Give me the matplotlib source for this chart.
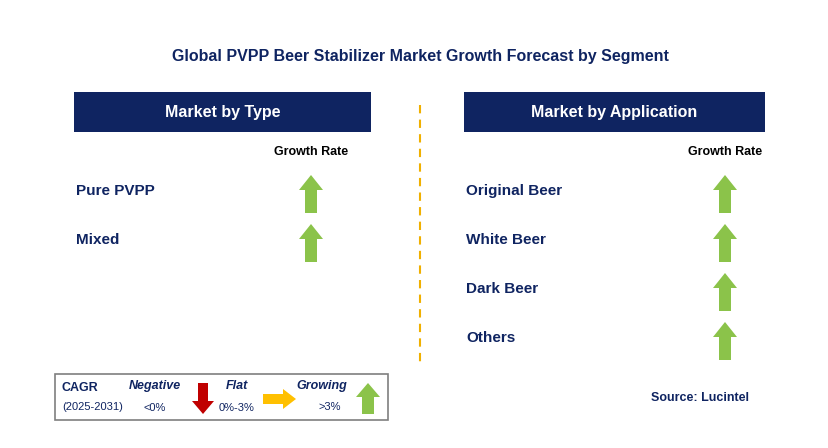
import matplotlib
matplotlib.use("Agg")
import matplotlib.pyplot as plt
from matplotlib.patches import Polygon, Rectangle

plt.rcParams["font.family"] = "Liberation Sans"

title = "Global PVPP Beer Stabilizer Market Growth Forecast by Segment"
type_segments = ["Pure PVPP", "Mixed"]
type_growth = ["up", "up"]
app_segments = ["Original Beer", "White Beer", "Dark Beer", "Others"]
app_growth = ["up", "up", "up", "up"]

NAVY = "#0f2461"
GREEN = "#8bc34a"
RED = "#c00000"
YELLOW = "#ffc000"

fig = plt.figure(figsize=(8.29, 4.48), dpi=100)
ax = fig.add_axes([0, 0, 1, 1])
ax.set_xlim(0, 829)
ax.set_ylim(448, 0)
ax.axis("off")

def up_arrow(cx, top, bot, color, hw=12, sw=6, hh=15):
    pts = [(cx, top), (cx + hw, top + hh), (cx + sw, top + hh), (cx + sw, bot),
           (cx - sw, bot), (cx - sw, top + hh), (cx - hw, top + hh)]
    ax.add_patch(Polygon(pts, closed=True, color=color, lw=0))

def down_arrow(cx, top, bot, color, hw=11, sw=5, hh=14):
    pts = [(cx, bot), (cx + hw, bot - hh), (cx + sw, bot - hh), (cx + sw, top),
           (cx - sw, top), (cx - sw, bot - hh), (cx - hw, bot - hh)]
    ax.add_patch(Polygon(pts, closed=True, color=color, lw=0))

def right_arrow(left, right, cy, color, hw=11, sw=5, hl=14):
    pts = [(right, cy), (right - hl, cy - hw), (right - hl, cy - sw), (left, cy - sw),
           (left, cy + sw), (right - hl, cy + sw), (right - hl, cy + hw)]
    ax.add_patch(Polygon(pts, closed=True, color=color, lw=0))

ax.text(420, 57, title, ha="center", va="center", fontsize=11.5, fontweight="bold", color=NAVY)

def panel(x0, x1, header, segs, growth, gx, y0):
    ax.add_patch(Rectangle((x0, 92), x1 - x0, 40, color=NAVY, lw=0))
    ax.text((x0 + x1) / 2, 112, header, ha="center", va="center", fontsize=11.5,
            fontweight="bold", color="white")
    ax.text(gx, 152, "Growth Rate", ha="center", va="center", fontsize=9,
            fontweight="bold", color="black")
    for i, (s, g) in enumerate(zip(segs, growth)):
        y = y0 + i * 49
        ax.text(x0 + 2, y, s, ha="left", va="center", fontsize=11,
                fontweight="bold", color=NAVY)
        if g == "up":
            up_arrow(gx, y - 16, y + 22, GREEN)
        elif g == "down":
            down_arrow(gx, y - 16, y + 22, RED)
        else:
            right_arrow(gx - 16, gx + 16, y, YELLOW)

panel(74, 371, "Market by Type", type_segments, type_growth, 311, 191)
panel(464, 765, "Market by Application", app_segments, app_growth, 725, 191)

ax.plot([420, 420], [105, 365], ls=(0, (4, 3)), color="#f0b000", lw=1.5)

# legend box
ax.add_patch(Rectangle((55, 374), 333, 46, fill=False, ec="#7f7f7f", lw=1.2))
ax.text(62, 388, "CAGR", fontsize=9, fontweight="bold", color=NAVY, va="center")
ax.text(62, 407, "(2025-2031)", fontsize=8, color=NAVY, va="center")
ax.text(155, 386, "Negative", fontsize=9, fontweight="bold", style="italic", color=NAVY,
        ha="center", va="center")
ax.text(155, 408, "<0%", fontsize=8, color=NAVY, ha="center", va="center")
down_arrow(203, 383, 414, RED, hw=11, sw=5, hh=13)
ax.text(237, 386, "Flat", fontsize=9, fontweight="bold", style="italic", color=NAVY,
        ha="center", va="center")
ax.text(237, 408, "0%-3%", fontsize=8, color=NAVY, ha="center", va="center")
right_arrow(263, 296, 399, YELLOW, hw=10, sw=5, hl=13)
ax.text(322, 386, "Growing", fontsize=9, fontweight="bold", style="italic", color=NAVY,
        ha="center", va="center")
ax.text(330, 407, ">3%", fontsize=8, color=NAVY, ha="center", va="center")
up_arrow(368, 383, 414, GREEN, hw=12, sw=6, hh=14)

ax.text(749, 398, "Source: Lucintel", ha="right", va="center", fontsize=9,
        fontweight="bold", color=NAVY)

fig.savefig("out.png", dpi=100)
